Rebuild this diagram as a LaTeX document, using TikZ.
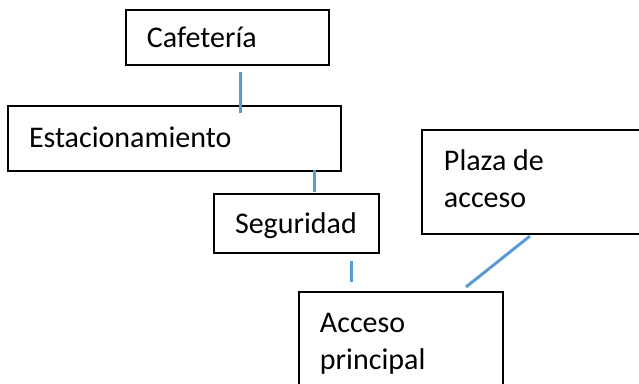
\documentclass[tikz,border=0pt]{standalone}
\usepackage{fontspec}
\setmainfont{Carlito}
\usetikzlibrary{positioning}
\definecolor{linkblue}{HTML}{5B9BD5}
\tikzset{
  box/.style={draw=black,line width=1pt,anchor=north west,align=flush left,
    inner xsep=10.5pt,inner ysep=0pt,font=\fontsize{15}{18.5}\selectfont},
  link/.style={draw=linkblue,line width=1.5pt}
}
\begin{document}
\begin{tikzpicture}[x=0.5pt,y=-0.5pt]
    \useasboundingbox (0,0) rectangle (639,384);
    \coordinate (rightEdge) at (639,0);

    \node[box,minimum width=101.5pt,minimum height=27.5pt,text width=80.5pt] (cafe) at (125,9) {Cafetería};
    \node[box,minimum width=166.5pt,minimum height=32.5pt,text width=145.5pt,text depth=1pt] (parking) at (7,105) {Estacionamiento};
    \node[box,minimum width=82.5pt,minimum height=29.5pt,text width=61.5pt,text depth=0pt] (security) at (213,193) {Seguridad};
    \node[box,draw=none,minimum width=108.5pt,minimum height=51pt,text width=87.5pt,text depth=21.5pt] (plaza) at (422,130) {Plaza de\\acceso};
    \draw[line width=1pt] (plaza.north west -| rightEdge) -- (plaza.north west) -- (plaza.south west) -- (plaza.south west -| rightEdge);
    \node[box,minimum width=102pt,minimum height=52pt,text width=81pt] (entrance) at (298,291) {Acceso\\principal};

    \coordinate (cafeEnd) at (240,72);
    \coordinate (parkingTop) at (240,113);
    \coordinate (parkingEnd) at (314,170);
    \coordinate (securityTop) at (314,192);
    \coordinate (securityEnd) at (351,261);
    \coordinate (entranceTop) at (351,282);
    \coordinate (plazaEnd) at (530,236);
    \coordinate (entranceCorner) at (466,287);

    \draw[link] (cafeEnd) -- (parkingTop);
    \draw[link] (parkingEnd) -- (securityTop);
    \draw[link] (securityEnd) -- (entranceTop);
    \draw[link] (plazaEnd) -- (entranceCorner);
\end{tikzpicture}
\end{document}
